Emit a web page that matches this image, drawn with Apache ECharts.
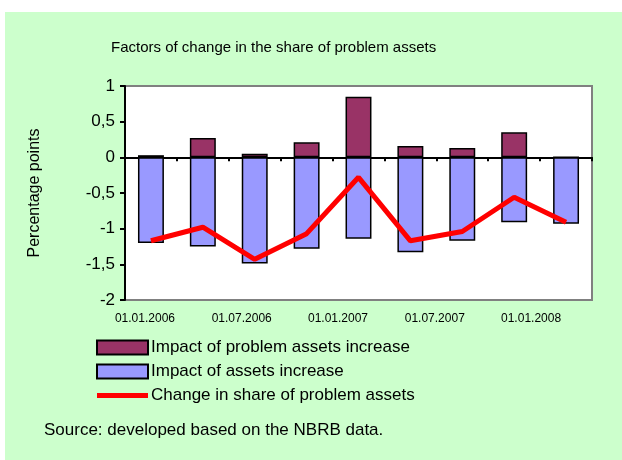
<!DOCTYPE html>
<html>
<head>
<meta charset="utf-8">
<script src="https://cdn.jsdelivr.net/npm/echarts@6/dist/echarts.min.js"></script>
<style>
html,body{margin:0;padding:0;background:#fff;}
#chart{width:622px;height:460px;}
</style>
</head>
<body>
<div id="chart"></div>
<script>
// quarterly dates
var categories = ['01.01.2006','01.04.2006','01.07.2006','01.10.2006','01.01.2007','01.04.2007','01.07.2007','01.10.2007','01.01.2008'];
var problemAssets = [0.03, 0.27, 0.05, 0.21, 0.85, 0.16, 0.13, 0.35, 0];
var assetsIncrease = [-1.20, -1.25, -1.49, -1.28, -1.14, -1.33, -1.17, -0.91, -0.93];
var shareChange = [-1.17, -0.98, -1.43, -1.07, -0.28, -1.17, -1.04, -0.56, -0.91];
var yTicks = {min: -2, max: 1, step: 0.5};

var font = 'Liberation Sans, Arial, sans-serif';
var myChart = echarts.init(document.getElementById('chart'));

// excel puts the date labels a bit left of the category centres, more so to the right
var labelRich = {};
for (var k = 0; k < 9; k++) {
    labelRich['p' + k] = {fontSize: 12, color: '#000', fontFamily: font, padding: [0, Math.round(12 + 7.2 * k), 0, 0]};
}

var option = {
    backgroundColor: '#ffffff',
    animation: false,
    textStyle: {fontFamily: font, color: '#000'},
    graphic: [
        {
            type: 'rect', z: -10,
            shape: {x: 5, y: 12, width: 617, height: 448},
            style: {fill: '#ccffcc'}
        },
        {
            type: 'text', left: 44, top: 422,
            style: {text: 'Source: developed based on the NBRB data.', font: '17px ' + font, fill: '#000'}
        }
    ],
    title: {
        text: 'Factors of change in the share of problem assets',
        left: 106,
        top: 35,
        textStyle: {fontSize: 15, fontWeight: 'normal', color: '#000', fontFamily: font}
    },
    legend: {
        orient: 'vertical',
        left: 96,
        top: 339,
        padding: 0,
        itemWidth: 51,
        itemHeight: 14,
        itemGap: 7,
        textStyle: {fontSize: 17, color: '#000', fontFamily: font, padding: [0, 0, 0, -2]},
        data: [
            {name: 'Impact of problem assets increase', icon: 'rect'},
            {name: 'Impact of assets increase', icon: 'rect'},
            {name: 'Change in share of problem assets', icon: 'path://M0,0H51V5H0Z', itemStyle: {color: '#ff0000', borderWidth: 0}}
        ]
    },
    grid: {
        left: 125, right: 30, top: 86, bottom: 160,
        show: true,
        backgroundColor: '#ffffff',
        borderColor: '#808080',
        borderWidth: 2
    },
    xAxis: [
        {
            type: 'category',
            data: categories,
            axisLine: {onZero: true, lineStyle: {color: '#000', width: 2}},
            axisTick: {show: true, interval: 0, length: 4, lineStyle: {color: '#000', width: 2}},
            axisLabel: {show: false}
        },
        {
            type: 'category',
            data: categories,
            position: 'bottom',
            axisLine: {show: false, onZero: false},
            axisTick: {show: false},
            axisLabel: {
                interval: 1, margin: 13, rich: labelRich,
                formatter: function (v, i) { return '{p' + i + '|' + v + '}'; }
            }
        }
    ],
    yAxis: {
        type: 'value',
        min: yTicks.min,
        max: yTicks.max,
        interval: yTicks.step,
        name: 'Percentage points',
        nameLocation: 'middle',
        nameGap: 82,
        nameTextStyle: {fontSize: 16, color: '#000', fontFamily: font},
        axisLine: {show: true, lineStyle: {color: '#000', width: 2}},
        axisTick: {show: true, length: 5, lineStyle: {color: '#000', width: 2}},
        splitLine: {show: false},
        axisLabel: {
            fontSize: 17, color: '#000', margin: 10, fontFamily: font,
            formatter: function (v) { return String(v).replace('.', ','); }
        }
    },
    series: [
        {
            name: 'Impact of problem assets increase',
            type: 'bar',
            stack: 'f',
            barWidth: '50%',
            itemStyle: {color: '#993366', borderColor: '#000', borderWidth: 1.5},
            data: problemAssets
        },
        {
            name: 'Impact of assets increase',
            type: 'bar',
            stack: 'f',
            barWidth: '50%',
            itemStyle: {color: '#9999ff', borderColor: '#000', borderWidth: 1.5},
            data: assetsIncrease
        },
        {
            name: 'Change in share of problem assets',
            type: 'line',
            symbol: 'none',
            lineStyle: {color: '#ff0000', width: 5},
            itemStyle: {color: '#ff0000'},
            z: 5,
            data: shareChange
        }
    ]
};

myChart.setOption(option);
</script>
</body>
</html>
